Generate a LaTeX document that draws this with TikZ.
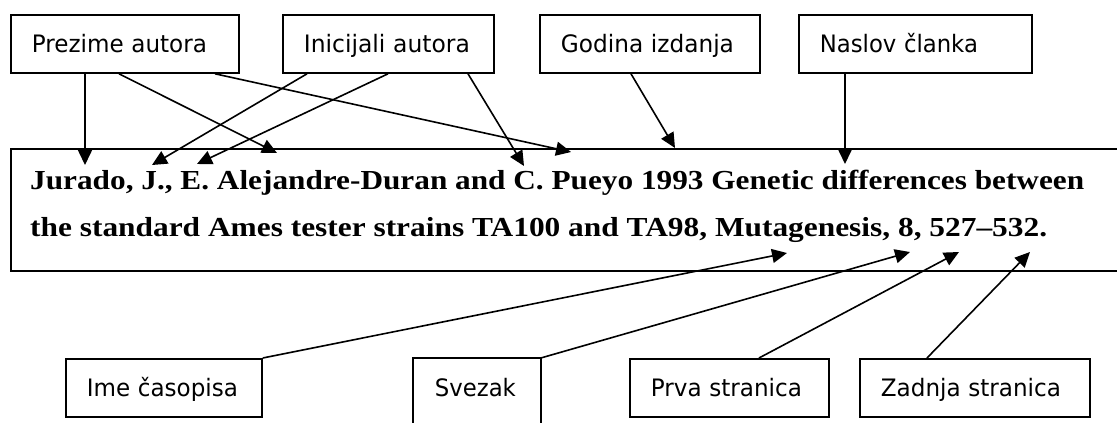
\documentclass[tikz,border=0pt]{standalone}
\usepackage{graphicx}
\usepackage{fontspec}
\setmainfont{Liberation Serif}
\newfontfamily\labelfont{DejaVu Sans}
\usetikzlibrary{arrows.meta,calc}
\newsavebox\linebox
\newcommand\fitto[2]{\sbox\linebox{#2}\pgfmathsetmacro\fitsx{#1/\the\wd\linebox}\scalebox{\fitsx}[1]{\usebox\linebox}}
\begin{document}
\begin{tikzpicture}[x=1pt,y=-1pt,
  lbl/.style={draw, line width=1.8pt, anchor=north west, inner xsep=21pt, inner ysep=0pt,
    font=\labelfont\fontsize{24}{28}\selectfont, text height=17pt, text depth=0pt,
    minimum height=58pt, align=left, text width=#1},
  mainbox/.style={draw, line width=1.8pt, anchor=north west, minimum width=1130pt, minimum height=122pt, inner sep=0pt},
  reftext/.style={anchor=base west, inner sep=0pt, font=\fontsize{27.5}{32}\selectfont\bfseries},
  conn/.style={line width=1.6pt, -{Triangle[length=15pt,width=14pt]}}]
\useasboundingbox (0,0) rectangle (1117,423);
\clip (0,0) rectangle (1117,423);

% top label boxes
\node[lbl=186pt] (prez) at (10,14) {\fitto{175pt}{Prezime autora}};
\node[lbl=169pt] (ini) at (282,14) {\fitto{166pt}{Inicijali autora}};
\node[lbl=178pt] (god) at (539,14) {\fitto{173pt}{Godina izdanja}};
\node[lbl=191pt] (nas) at (798,14) {\fitto{158pt}{Naslov članka}};

% reference box
\node[mainbox] (ref) at (10,148) {};
\node[reftext] (l1) at (30,189) {\fitto{1054pt}{Jurado, J., E. Alejandre-Duran and C. Pueyo 1993 Genetic differences between}};
\node[reftext] (l2) at (30,236) {\fitto{1017pt}{the standard Ames tester strains TA100 and TA98, Mutagenesis, 8, 527–532.}};

% bottom label boxes
\node[lbl=154pt] (ime) at (65,358) {\fitto{151pt}{Ime časopisa}};
\node[lbl=84pt, draw=none] (svz) at (413,358) {\fitto{81pt}{Svezak}};
\draw[line width=1.8pt] ([yshift=-80pt]svz.north west) -- (svz.north west) -- (svz.north east) -- ([yshift=-80pt]svz.north east);
\node[lbl=157pt] (prv) at (629,358) {\fitto{151pt}{Prva stranica}};
\node[lbl=188pt] (zad) at (859,358) {\fitto{180pt}{Zadnja stranica}};

% arrow targets
\coordinate (t1) at (85,165);
\coordinate (t2) at (277,153);
\coordinate (t3) at (571,152);
\coordinate (t4) at (152,165);
\coordinate (t5) at (197,164);
\coordinate (t6) at (524,166);
\coordinate (t7) at (675,148);
\coordinate (t8) at (845,164);
\coordinate (t9) at (787,253);
\coordinate (t10) at (910,252);
\coordinate (t11) at (959,252);
\coordinate (t12) at (1030,252);

% top connectors
\draw[conn] ([xshift=75pt]prez.south west) -- (t1);
\draw[conn] ([xshift=109pt]prez.south west) -- (t2);
\draw[conn] ([xshift=205pt]prez.south west) -- (t3);
\draw[conn] ([xshift=25pt]ini.south west) -- (t4);
\draw[conn] ([xshift=106pt]ini.south west) -- (t5);
\draw[conn] ([xshift=186pt]ini.south west) -- (t6);
\draw[conn] ([xshift=92pt]god.south west) -- (t7);
\draw[conn] ([xshift=47pt]nas.south west) -- (t8);

% bottom connectors
\draw[conn] (ime.north east) -- (t9);
\draw[conn] (svz.north east) -- (t10);
\draw[conn] ([xshift=130pt]prv.north west) -- (t11);
\draw[conn] ([xshift=68pt]zad.north west) -- (t12);
\end{tikzpicture}
\end{document}
